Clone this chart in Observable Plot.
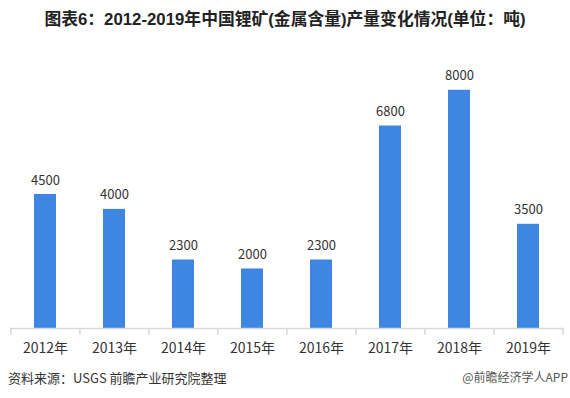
<!DOCTYPE html>
<html><head><meta charset="utf-8">
<script src="https://cdn.jsdelivr.net/npm/d3@7"></script>
<script src="https://cdn.jsdelivr.net/npm/@observablehq/plot@0.6"></script>
<style>
body{margin:0;background:#fff;width:570px;height:398px;overflow:hidden;font-family:"Noto Sans CJK SC","Noto Sans",sans-serif;}
#title{height:40px;line-height:40px;text-align:center;font-weight:bold;font-size:16.8px;color:#222;font-family:Arial,"Liberation Sans","Noto Sans CJK SC",sans-serif;}
#foot{position:relative;height:40px;font-size:13px;color:#333;}
#src{position:absolute;left:8px;top:10px;}
#app{position:absolute;right:2px;top:10px;font-size:12px;color:#555;}
</style></head>
<body>
<div id="title">图表6：2012-2019年中国锂矿(金属含量)产量变化情况(单位：吨)</div>
<div id="chart"></div>
<div id="foot"><span id="src">资料来源：USGS 前瞻产业研究院整理</span><span id="app">@前瞻经济学人APP</span></div>
<script>
const years = ["2012年","2013年","2014年","2015年","2016年","2017年","2018年","2019年"];
const output = [4500, 4000, 2300, 2000, 2300, 6800, 8000, 3500];
const yMax = 9000;
const tickLen = 230;

const data = years.map((y, i) => ({year: y, value: output[i]}));
const W = 570, mL = 10, mR = 6;
const half = (W - mL - mR) / years.length / 2;

const chart = Plot.plot({
  width: W, height: 318,
  marginLeft: mL, marginRight: mR, marginTop: 20, marginBottom: 30,
  x: {domain: years, paddingInner: 0.68, paddingOuter: 0.34, axis: null},
  y: {domain: [0, yMax], axis: null},
  style: {fontFamily: '"Noto Sans CJK SC","Noto Sans",sans-serif', background: "#fff"},
  marks: [
    Plot.barY(data, {x: "year", y: "value", fill: "#3E86E2"}),
    Plot.ruleY([0], {stroke: "#d9d9d9", strokeWidth: 1.5}),
    Plot.ruleX(years, {x: d => d, y1: 0, y2: -tickLen, dx: -half, stroke: "#d9d9d9", strokeWidth: 1.5}),
    Plot.ruleX([years[years.length - 1]], {x: d => d, y1: 0, y2: -tickLen, dx: half, stroke: "#d9d9d9", strokeWidth: 1.5}),
    Plot.text(data, {x: "year", y: "value", text: d => String(d.value), dy: -10, lineAnchor: "bottom", fontSize: 13, fill: "#333"}),
    Plot.text(data, {x: "year", y: 0, text: "year", dy: 20, fontSize: 14, fill: "#333"})
  ]
});
document.getElementById("chart").appendChild(chart);
</script>
</body></html>
